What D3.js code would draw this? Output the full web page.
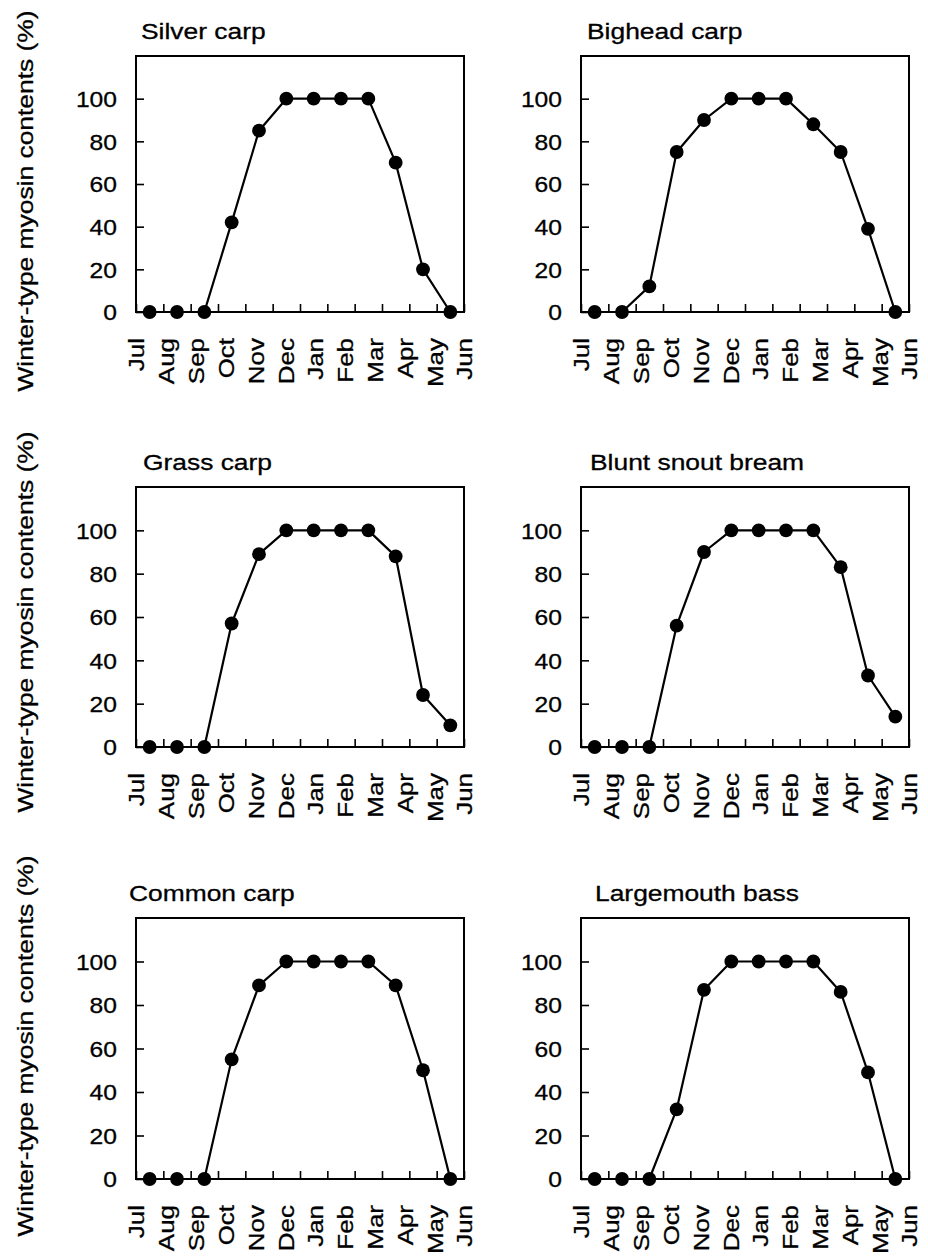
<!DOCTYPE html>
<html>
<head>
<meta charset="utf-8">
<script src="https://cdn.jsdelivr.net/npm/d3@7"></script>
<style>
  html, body { margin: 0; padding: 0; background: #fff; }
  svg { display: block; }
  text { font-family: "Liberation Sans", Arial, Helvetica, sans-serif; fill: #000; stroke: #000; stroke-width: 0.3px; }
</style>
</head>
<body>
<div id="chart"></div>
<script>
// ---- Data ----
const months = ["Jul", "Aug", "Sep", "Oct", "Nov", "Dec", "Jan", "Feb", "Mar", "Apr", "May", "Jun"];
const species = ["Silver carp", "Bighead carp", "Grass carp", "Blunt snout bream", "Common carp", "Largemouth bass"];
const silverCarp      = [0, 0, 0, 42, 85, 100, 100, 100, 100, 70, 20, 0];
const bigheadCarp     = [0, 0, 12, 75, 90, 100, 100, 100, 88, 75, 39, 0];
const grassCarp       = [0, 0, 0, 57, 89, 100, 100, 100, 100, 88, 24, 10];
const bluntSnoutBream = [0, 0, 0, 56, 90, 100, 100, 100, 100, 83, 33, 14];
const commonCarp      = [0, 0, 0, 55, 89, 100, 100, 100, 100, 89, 50, 0];
const largemouthBass  = [0, 0, 0, 32, 87, 100, 100, 100, 100, 86, 49, 0];
const yTicks = [0, 20, 40, 60, 80, 100];
const yDomain = [0, 120];
const yAxisTitle = "Winter-type myosin contents (%)";

const seriesValues = [silverCarp, bigheadCarp, grassCarp, bluntSnoutBream, commonCarp, largemouthBass];

// ---- Layout ----
const W = 928, H = 1259;
const colX = [136, 581];
const plotW = 328;
const rowTop = [56, 487, 918];
const rowBottom = [312, 747, 1179];
const rowLabelCenter = [201, 622, 1046];
const titleDx = [5, 6, 7, 9, -7, 14];
const FS = 22;

const svg = d3.select("#chart").append("svg")
  .attr("width", W).attr("height", H)
  .attr("viewBox", `0 0 ${W} ${H}`);
svg.append("rect").attr("width", W).attr("height", H).attr("fill", "#fff");

species.forEach((name, i) => {
  const col = i % 2, row = Math.floor(i / 2);
  const x0 = colX[col], y0 = rowTop[row];
  const h = rowBottom[row] - rowTop[row];
  const g = svg.append("g").attr("transform", `translate(${x0},${y0})`);

  const xBand = d3.scaleBand().domain(months).range([0, plotW]).padding(0);
  const xEdge = d3.scaleLinear().domain([0, months.length]).range([0, plotW]);
  const xLab = d3.scalePoint().domain(months).range([0, plotW]);
  const y = d3.scaleLinear().domain(yDomain).range([h, 0]);

  // y axis (inward ticks)
  const yAx = g.append("g")
    .call(d3.axisLeft(y).tickValues(yTicks).tickSizeInner(-8).tickSizeOuter(0).tickPadding(19));
  yAx.select(".domain").remove();
  yAx.selectAll("line").attr("stroke", "#000").attr("stroke-width", 1.6);
  yAx.selectAll("text")
    .attr("font-size", FS)
    .attr("font-family", "Liberation Sans, Arial, sans-serif")
    .attr("fill", "#000")
    .each(function () {
      const t = d3.select(this);
      const tx = +t.attr("x");
      t.attr("x", 0).attr("dy", "0.36em").attr("transform", `translate(${tx},0) scale(1.12,1)`);
    });

  // x axis ticks (inward, at month boundaries)
  const xAx = g.append("g").attr("transform", `translate(0,${h})`)
    .call(d3.axisBottom(xEdge).tickValues(d3.range(months.length + 1)).tickSizeInner(-8).tickSizeOuter(0).tickFormat(""));
  xAx.select(".domain").remove();
  xAx.selectAll("line").attr("stroke", "#000").attr("stroke-width", 1.6);

  // x labels (rotated)
  const xLa = g.append("g").attr("transform", `translate(0,${h})`)
    .call(d3.axisBottom(xLab).tickSize(0).tickPadding(0));
  xLa.select(".domain").remove();
  xLa.selectAll("text")
    .attr("font-size", FS)
    .attr("font-family", "Liberation Sans, Arial, sans-serif")
    .attr("fill", "#000")
    .attr("text-anchor", "end")
    .attr("x", 0).attr("y", 0).attr("dy", "0.36em")
    .attr("transform", `translate(0,26) rotate(-90) scale(1.18,1)`);

  // frame
  g.append("rect")
    .attr("x", 0).attr("y", 0).attr("width", plotW).attr("height", h)
    .attr("fill", "none").attr("stroke", "#000").attr("stroke-width", 2);

  // data
  const vals = seriesValues[i];
  const pts = months.map((m, k) => ({ m, v: vals[k] }));
  const cx = d => xBand(d.m) + xBand.bandwidth() / 2;
  g.append("path")
    .datum(pts)
    .attr("fill", "none").attr("stroke", "#000").attr("stroke-width", 2.2)
    .attr("stroke-linejoin", "round")
    .attr("d", d3.line().x(cx).y(d => y(d.v)));
  g.selectAll("circle.pt").data(pts).join("circle")
    .attr("class", "pt")
    .attr("cx", cx).attr("cy", d => y(d.v)).attr("r", 6.9)
    .attr("fill", "#000");

  // title
  g.append("text")
    .attr("font-size", FS)
    .attr("transform", `translate(${titleDx[i]},-17) scale(1.2,1)`)
    .text(name);

  // y axis title (left column only)
  if (col === 0) {
    svg.append("text")
      .attr("font-size", FS)
      .attr("text-anchor", "middle")
      .attr("transform", `translate(33,${rowLabelCenter[row]}) rotate(-90) scale(1.2,1)`)
      .text(yAxisTitle);
  }
});
</script>
</body>
</html>
